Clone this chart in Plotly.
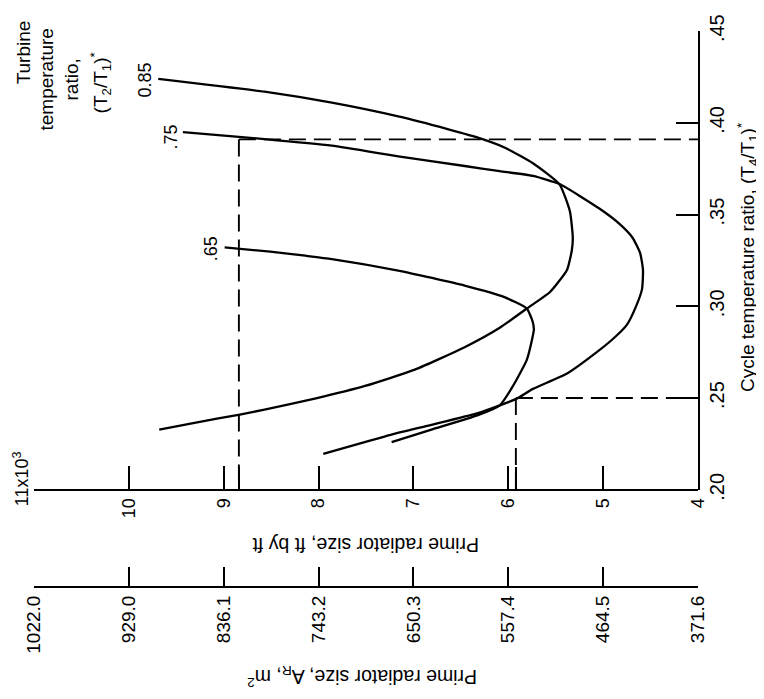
import plotly.graph_objects as go

# ---- data (radiator size in 10^3 ft^2, cycle temperature ratio T4/T1) ----
r_085 = [9.69, 8.57, 7.86, 7.16, 6.64, 6.28, 6.04, 5.74, 5.46, 5.35, 5.32, 5.33, 5.38, 5.56,
         5.805, 6.09, 6.46, 6.985, 7.51, 8.04, 8.57, 8.83, 9.28, 9.68]
t_085 = [.424, .417, .411, .4035, .3966, .3913, .3866, .378, .3665, .3517, .3374, .3306, .320, .3078,
         .2988, .2883, .2777, .2655, .2566, .2497, .2437, .2410, .2368, .2328]

r_075 = [9.43, 8.81, 8.57, 7.86, 7.16, 6.46, 6.09, 5.74, 5.46, 5.04, 4.825, 4.69, 4.61, 4.58, 4.59,
         4.65, 4.75, 4.88, 5.04, 5.38, 5.74, 5.91, 6.09, 6.32, 6.81, 7.23, 7.95]
t_075 = [.395, .3922, .3912, .3876, .3818, .3765, .3737, .3711, .3667, .3533, .3448, .3374, .329, .32, .3094,
         .3004, .2899, .2830, .2761, .2634, .255, .2497, .246, .2418, .2354, .2301, .2196]

r_065 = [8.99, 8.51, 8.14, 7.86, 7.16, 6.46, 6.04, 5.805, 5.745, 5.73, 5.745, 5.805, 5.95, 6.09, 6.32, 6.81, 7.23]
t_065 = [.3322, .3298, .3276, .3258, .3195, .3113, .3050, .2988, .292, .2875, .283, .2708, .2566, .246, .2407, .2328, .226]

curve_labels = ["0.85", ".75", ".65"]

# dashed guide lines
guide_r1, guide_t1 = 8.84, .391
guide_r2, guide_t2 = 5.92, .25

# axes
r_range = [11, 4]
t_range = [.1999, .4501]
r_ticks = [10, 9, 8, 7, 6, 5, 4]
r_ticktext = ["10", "9", "8", "7", "6", "5", "4"]
t_ticks = [.20, .25, .30, .35, .40, .45]
t_ticktext = [".20", ".25", ".30", ".35", ".40", ".45"]
m2_ticks = [1022.0, 929.0, 836.1, 743.2, 650.3, 557.4, 464.5, 371.6]
m2_ticktext = ["1022.0", "929.0", "836.1", "743.2", "650.3", "557.4", "464.5", "371.6"]

FONT = "Liberation Sans, Arial, Helvetica, sans-serif"

# page body has an 8px margin: the figure is shifted by (8, 8)
OFF = 8
Y0 = 100 / 573.0  # bottom of plot area in paper coords (ft axis position)

fig = go.Figure()
for r, t in [(r_085, t_085), (r_075, t_075), (r_065, t_065)]:
    fig.add_trace(go.Scatter(x=r, y=t, mode="lines",
                             line=dict(color="black", width=2.3, shape="spline", smoothing=0.5),
                             hoverinfo="skip"))

dash = dict(color="black", width=1.9, dash="17px,8px")
fig.add_trace(go.Scatter(x=[guide_r1, r_range[1]], y=[guide_t1, guide_t1], mode="lines", line=dash, hoverinfo="skip"))
fig.add_trace(go.Scatter(x=[guide_r1, guide_r1], y=[guide_t1, t_ticks[0]], mode="lines", line=dash, hoverinfo="skip"))
fig.add_trace(go.Scatter(x=[guide_r2, guide_r2], y=[guide_t2, t_ticks[0]], mode="lines", line=dash, hoverinfo="skip"))
fig.add_trace(go.Scatter(x=[guide_r2, r_range[1]], y=[guide_t2, guide_t2], mode="lines", line=dash, hoverinfo="skip"))

# invisible traces carrying the m^2 axis and the unlabeled tick axis
fig.add_trace(go.Scatter(x=[m2_ticks[0], m2_ticks[-1]], y=[t_ticks[0], t_ticks[0]], xaxis="x2", yaxis="y",
                         mode="markers", marker=dict(opacity=0), hoverinfo="skip"))
fig.add_trace(go.Scatter(x=[r_range[0], r_range[1]], y=[t_ticks[0], t_ticks[0]], xaxis="x3", yaxis="y",
                         mode="markers", marker=dict(opacity=0), hoverinfo="skip"))

axis_common = dict(showgrid=False, zeroline=False, linewidth=2, linecolor="black",
                   ticks="inside", tickwidth=2, tickcolor="black", tickangle=-90)

fig.update_layout(
    width=764 - OFF, height=699 - OFF,
    margin=dict(l=34 - OFF, r=66, t=14 - OFF, b=112),
    showlegend=False,
    plot_bgcolor="white", paper_bgcolor="white",
    xaxis=dict(range=r_range, domain=[0, 1], anchor="free", position=Y0, showline=True,
               tickvals=r_ticks, ticktext=r_ticktext, ticklen=23, ticklabeloverflow="allow",
               tickfont=dict(family=FONT, size=18, color="black"), **axis_common),
    xaxis3=dict(range=r_range, overlaying="x", anchor="free", position=Y0, side="bottom", showline=False,
                tickvals=[r_range[0], guide_r1, guide_r2], showticklabels=False, ticklen=23, **axis_common),
    xaxis2=dict(range=[m2_ticks[0], m2_ticks[-1]], overlaying="x", anchor="free", position=0, side="bottom",
                showline=True, tickvals=m2_ticks, ticktext=m2_ticktext, ticklen=19, ticklabeloverflow="allow",
                tickfont=dict(family=FONT, size=19, color="black"), **axis_common),
    yaxis=dict(range=t_range, domain=[Y0, 1], anchor="x", side="right", showline=True,
               tickvals=t_ticks, ticktext=t_ticktext, ticklen=22, ticklabeloverflow="allow",
               tickfont=dict(family=FONT, size=20, color="black"), **axis_common),
)

ann = []
# curve labels
for txt, (rx, ty) in zip(curve_labels, [(9.83, .4236), (9.56, .3924), (9.135, .3316)]):
    ann.append(dict(x=rx, y=ty, xref="x", yref="y", text=txt, textangle=-90, showarrow=False,
                    xanchor="center", yanchor="middle",
                    font=dict(family=FONT, size=18, color="black")))


def px(x):
    return (x - 34) / 664.0


def py(y):
    return (587 - y) / 573.0


def page_text(txt, x, y, angle, size):
    return dict(x=px(x), y=py(y), xref="paper", yref="paper", text=txt, textangle=angle, showarrow=False,
                xanchor="center", yanchor="middle", font=dict(family=FONT, size=size, color="black"))


legend_lines = [("Turbine", 23, 36), ("temperature", 47, 64), ("ratio,", 72, 64),
                ("(T<sub>2</sub>/T<sub>1</sub>)<sup>*</sup>", 100, 68)]
for txt, xx, yy in legend_lines:
    ann.append(page_text(txt, xx, yy, -90, 19))

ann.append(page_text("11x10<sup>3</sup>", 21, 476, -90, 18))
ann.append(page_text("Cycle temperature ratio, (T<sub>4</sub>/T<sub>1</sub>)<sup>*</sup>", 747, 248, -90, 19))
ann.append(page_text("Prime radiator size, ft by ft", 366, 543, 180, 19.5))
ann.append(page_text("Prime radiator size, A<sub>R</sub>, m<sup>2</sup>", 362, 680, 180, 19.5))
fig.update_layout(annotations=ann)

fig.write_html("out.html")
